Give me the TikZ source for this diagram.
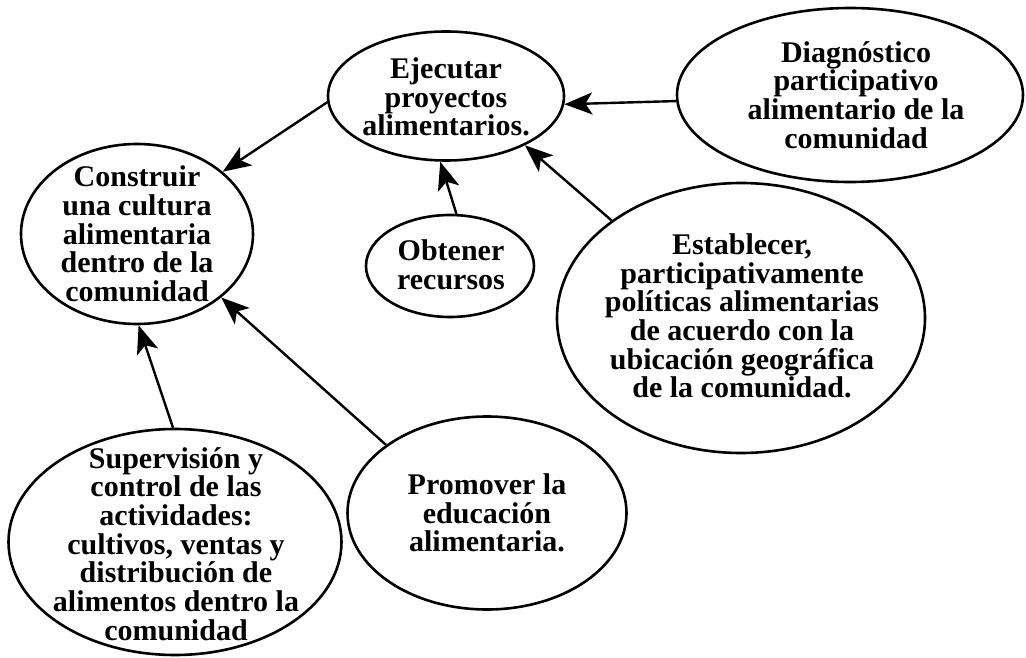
\documentclass[tikz,border=0pt]{standalone}
\usepackage{fontspec}
\setmainfont{Liberation Serif}
\usetikzlibrary{shapes.geometric,arrows.meta}
\tikzset{
  bubble/.style={draw=black, line width=2.6pt, ellipse, inner sep=0pt},
  lbl/.style={align=center, inner sep=0pt, font=\fontsize{30}{28.7}\selectfont\bfseries},
  conn/.style={line width=2.4pt, -{Stealth[length=28pt,width=22pt,inset=7pt]}}
}
\begin{document}
\begin{tikzpicture}[x=1pt,y=-1pt]
\useasboundingbox[fill=white] (0,0) rectangle (1026,658);
% ellipses
\node[bubble, minimum width=236pt, minimum height=129pt] (eje) at (446,96) {};
\node[bubble, minimum width=346pt, minimum height=174pt] (diag) at (850,95) {};
\node[bubble, minimum width=232pt, minimum height=180pt] (cons) at (137,234) {};
\node[bubble, minimum width=168pt, minimum height=102pt] (obt) at (450,266) {};
\node[bubble, minimum width=368pt, minimum height=270pt] (est) at (741,318) {};
\node[bubble, minimum width=333pt, minimum height=226pt] (sup) at (175,542) {};
\node[bubble, minimum width=279pt, minimum height=193pt] (prom) at (487,513) {};
% texts
\node[lbl] (teje) at (446,97) {Ejecutar\\proyectos\\alimentarios.};
\node[lbl] (tdiag) at (856,95) {Diagnóstico\\participativo\\alimentario de la\\comunidad};
\node[lbl] (tcons) at (137,234) {Construir\\una cultura\\alimentaria\\dentro de la\\comunidad};
\node[lbl] (tobt) at (451,265) {Obtener\\recursos};
\node[lbl] (test) at (742,316) {Establecer,\\participativamente\\políticas alimentarias\\de acuerdo con la\\ubicación geográfica\\de la comunidad.};
\node[lbl] (tsup) at (176,544) {Supervisión y\\control de las\\actividades:\\cultivos, ventas y\\distribución de\\alimentos dentro la\\comunidad};
\node[lbl] (tprom) at (487,513) {Promover la\\educación\\alimentaria.};
% connectors
\draw[conn] (eje.183) -- (cons.36);
\draw[conn] (diag.182) -- (eje.356.6);
\draw[conn] (obt.83) -- (eje.265.7);
\draw[conn] (est.143.3) -- (eje.328.8);
\draw[conn] (sup.91) -- (cons.271.8);
\draw[conn] (prom.146.4) -- (cons.323.5);
\end{tikzpicture}
\end{document}
